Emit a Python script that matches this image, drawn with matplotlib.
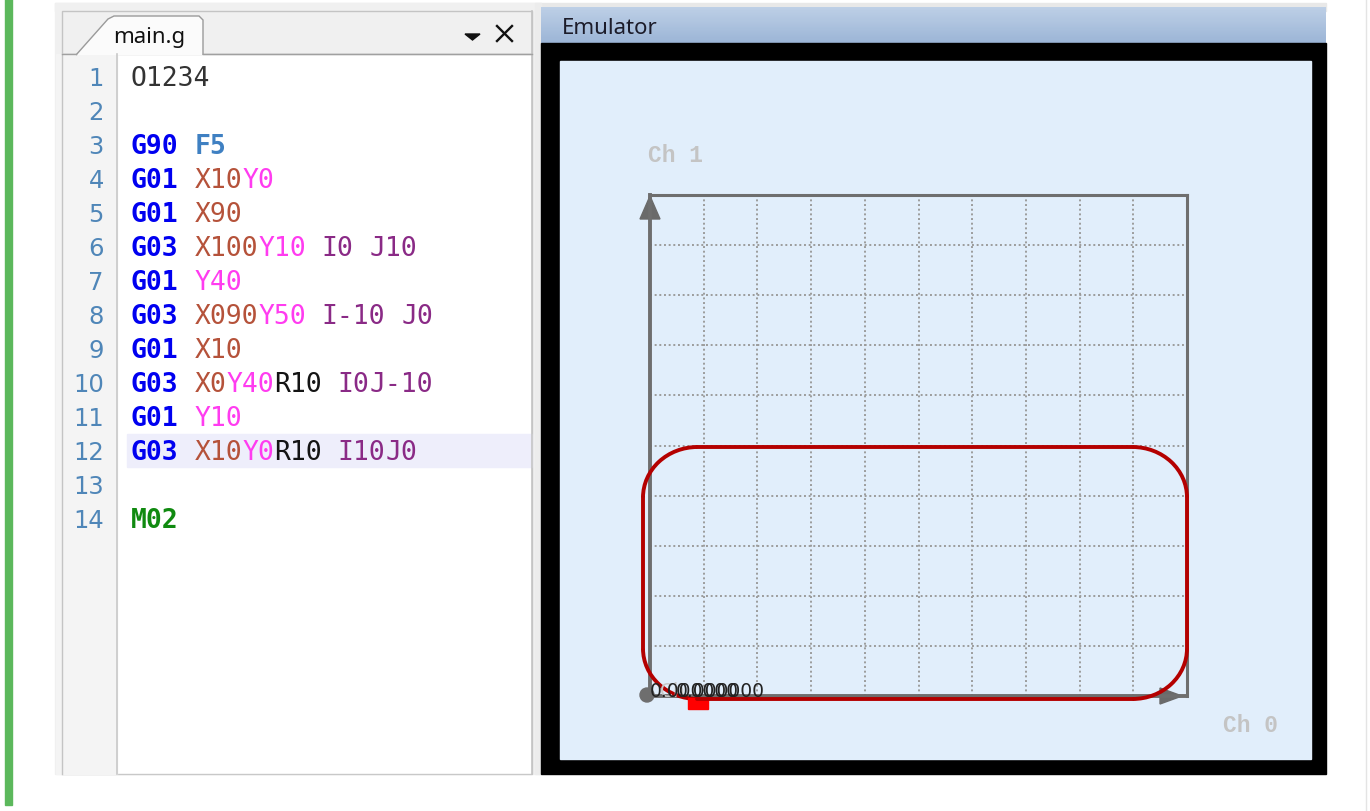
import re
import math
import matplotlib
matplotlib.use('Agg')
import matplotlib.pyplot as plt
from matplotlib.patches import Rectangle, Polygon, Circle, Arc

W, H = 1370, 812

# g-code listing shown in the editor
program = [
    "O1234",
    "",
    "G90 F5",
    "G01 X10Y0",
    "G01 X90",
    "G03 X100Y10 I0 J10",
    "G01 Y40",
    "G03 X090Y50 I-10 J0",
    "G01 X10",
    "G03 X0Y40R10 I0J-10",
    "G01 Y10",
    "G03 X10Y0R10 I10J0",
    "",
    "M02",
]
highlight_line = 12
channel_labels = ["Ch 0", "Ch 1"]
readout = ["0.000000", "0.000000"]

word_colors = {
    "O": "#333333", "G": "#0000f0", "F": "#3f80c2", "X": "#b5523a",
    "Y": "#ff3cf0", "I": "#8a2a86", "J": "#8a2a86", "R": "#141414",
    "M": "#108a10",
}
bold_words = {"G", "F", "M"}


def frac(x0, y0, x1, y1):
    return [x0 / W, 1 - y1 / H, (x1 - x0) / W, (y1 - y0) / H]


fig = plt.figure(figsize=(W / 100, H / 100), dpi=100)
ui = fig.add_axes([0, 0, 1, 1])
ui.set_xlim(0, W)
ui.set_ylim(H, 0)
ui.axis('off')

# left green bar
ui.add_patch(Rectangle((5, 0), 7, 806, color="#5cb85c"))

# editor frame
ui.add_patch(Rectangle((55, 4), 1271, 8, color="#e8e8e8"))
ui.add_patch(Rectangle((55, 4), 486, 771, color="#f0f0f0"))
ui.add_patch(Rectangle((62, 12), 470, 43, facecolor="#f0f0f0", edgecolor="#c4c4c4", lw=1))
ui.add_patch(Rectangle((62, 55), 470, 720, facecolor="white", edgecolor="#c8c8c8", lw=1))
ui.add_patch(Rectangle((56, 55), 61, 720, color="#f4f4f4"))
ui.plot([62, 62], [55, 775], color="#c4c4c4", lw=1)
ui.plot([117, 117], [55, 775], color="#c8c8c8", lw=1.2)
ui.plot([532, 532], [12, 775], color="#c4c4c4", lw=1.2)
ui.plot([62, 76], [55, 55], color="#a0a0a0", lw=1)
ui.plot([203, 532], [55, 55], color="#a0a0a0", lw=1)

# tab
ui.add_patch(Polygon([(76, 56), (108, 20), (114, 17), (199, 17), (203, 21), (203, 56)],
                     closed=False, facecolor="#fbfbfb", edgecolor="#9a9a9a", lw=1))
ui.text(113, 37, "main.g", fontsize=16, family="Noto Sans", color="#111111",
        va="center", ha="left", fontweight="semibold")
ui.add_patch(Polygon([(465, 35), (480, 35), (472.5, 41)], color="#111111"))
ui.plot([497, 512], [27, 42], color="#111111", lw=1.7)
ui.plot([497, 512], [42, 27], color="#111111", lw=1.7)

# code listing
row0, row_h = 77, 34
code_x = 131
fs_code = 19
adv = 0.602 * fs_code * 100 / 72
hy = row0 + (highlight_line - 1) * row_h
ui.add_patch(Rectangle((127, hy - 16.5), 405, 33, color="#eeeefb"))
for i, line in enumerate(program, start=1):
    y = row0 + (i - 1) * row_h + 9.5
    ui.text(104, y, str(i), fontsize=17.5, family="DejaVu Sans", color="#4f86b8",
            ha="right", va="baseline")
    for m in re.finditer(r"[A-Z]-?\d+", line):
        w = m.group()[0]
        ui.text(code_x + m.start() * adv, y, m.group(), fontsize=fs_code,
                family="DejaVu Sans Mono", color=word_colors[w],
                fontweight="bold" if w in bold_words else "normal",
                ha="left", va="baseline")

# emulator window
ui.add_patch(Rectangle((535, 4), 6, 771, color="#ececec"))
for k in range(32):
    t = k / 31
    c = (0.74 - 0.13 * t, 0.81 - 0.10 * t, 0.90 - 0.06 * t)
    ui.add_patch(Rectangle((541, 8 + k * 36 / 32), 785, 36 / 32 + 0.3, color=c, lw=0))
ui.text(562, 28, "Emulator", fontsize=16, family="Noto Sans", color="#1c1c2a",
        va="center", ha="left")
ui.add_patch(Rectangle((541, 44), 785, 731, color="black"))
ui.add_patch(Rectangle((560, 62), 751, 698, color="#e1eefb"))
ui.plot([1366, 1366], [0, 812], color="#e4e4e4", lw=1)

ui.text(648, 162, channel_labels[1], fontsize=16.5, family="Liberation Mono",
        fontweight="bold", color="#c4c4c4", ha="left", va="baseline")
ui.text(1223, 732, channel_labels[0], fontsize=16.5, family="Liberation Mono",
        fontweight="bold", color="#c4c4c4", ha="left", va="baseline")

# scope grid
grid_ax = fig.add_axes(frac(650, 196, 1187, 697))
grid_ax.set_facecolor("none")
grid_ax.set_xlim(0, 100)
grid_ax.set_ylim(0, 100)
grid_ax.set_xticks(range(10, 100, 10))
grid_ax.set_yticks(range(10, 100, 10))
grid_ax.tick_params(length=0, labelbottom=False, labelleft=False)
grid_ax.grid(True, color="#9c9c9c", lw=1.4, linestyle=(0, (1, 1.4)))
for side, lw in [("left", 2.8), ("bottom", 2.8), ("top", 2.2), ("right", 2.2)]:
    grid_ax.spines[side].set_color("#6e6e6e")
    grid_ax.spines[side].set_linewidth(lw)

# axis arrows and origin
ui.add_patch(Polygon([(640, 220), (660, 220), (650, 197)], color="#6a6a6a"))
ui.add_patch(Polygon([(1160, 689), (1160, 705), (1182, 697)], color="#6a6a6a"))
ui.add_patch(Circle((647, 696), 7, color="#6e6e6e"))

# toolpath from the program
path_ax = fig.add_axes(frac(643, 196, 1187, 700))
path_ax.set_facecolor("none")
path_ax.set_xlim(0, 100)
path_ax.set_ylim(0, 100)
path_ax.axis('off')
red = "#b40000"
path_lw = 2.8
cx = cy = None
for line in program:
    words = dict((m.group(1), float(m.group(2)))
                 for m in re.finditer(r"([A-Z])(-?\d+)", line))
    if "G" not in words or words["G"] not in (1, 3):
        continue
    nx = words.get("X", cx)
    ny = words.get("Y", cy)
    if cx is None:
        cx, cy = nx, ny
        continue
    if words["G"] == 1:
        path_ax.plot([cx, nx], [cy, ny], color=red, lw=path_lw, solid_capstyle="round",
                     clip_on=False)
    else:
        ox, oy = cx + words.get("I", 0), cy + words.get("J", 0)
        r = math.hypot(cx - ox, cy - oy)
        a1 = math.degrees(math.atan2(cy - oy, cx - ox))
        a2 = math.degrees(math.atan2(ny - oy, nx - ox))
        path_ax.add_patch(Arc((ox, oy), 2 * r, 2 * r, theta1=a1, theta2=a2,
                              color=red, lw=path_lw, clip_on=False))
    cx, cy = nx, ny

# tool marker and readouts
path_ax.add_patch(Rectangle((688, 699), 20, 11, color="#ff0000",
                            transform=ui.transData, clip_on=False))
path_ax.text(660, 697, "Ch", fontsize=13.5, color="#c8c8c8", transform=ui.transData,
             va="baseline", ha="left", clip_on=False)
path_ax.text(650, 697, readout[0], fontsize=13.5, color="#222222", transform=ui.transData,
             va="baseline", ha="left", clip_on=False)
path_ax.text(676, 697, readout[1], fontsize=13.5, color="#222222", transform=ui.transData,
             va="baseline", ha="left", clip_on=False)

fig.savefig("out.png", dpi=100)
